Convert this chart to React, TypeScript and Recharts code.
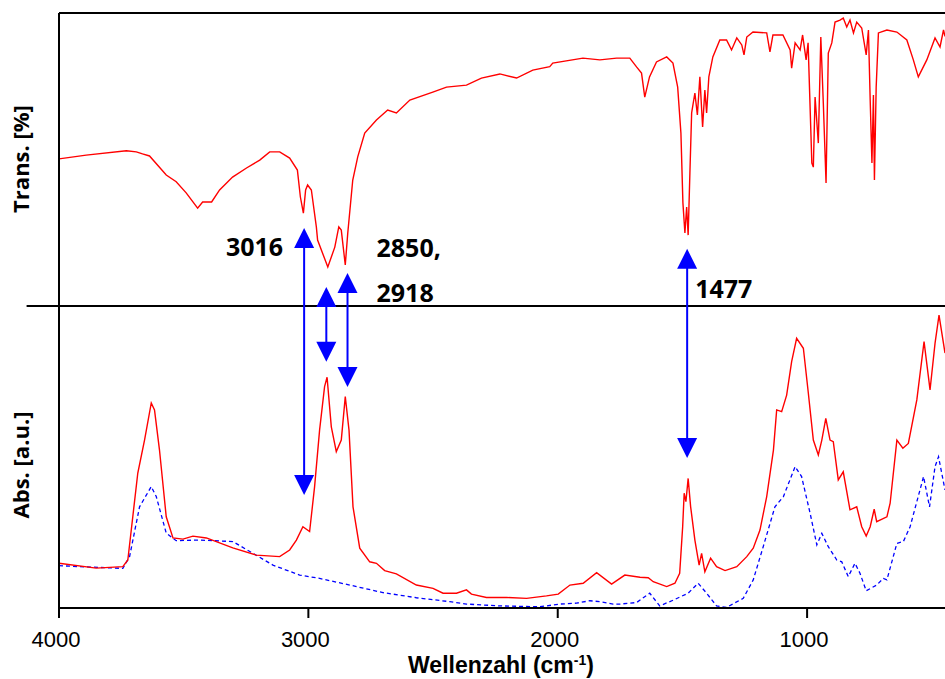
import React from "react"
import { LineChart, Line, XAxis, YAxis, ReferenceLine, Customized } from "recharts"

// top panel: transmission spectrum (%)
const TRANS_WN = [
  4000, 3891, 3730, 3690, 3665, 3637, 3570, 3530, 3490, 3444,
  3424, 3388, 3356, 3304, 3248, 3195, 3155, 3115, 3075, 3044,
  3032, 3020, 3011, 3003, 2988, 2968, 2963, 2922, 2894, 2878,
  2868, 2852, 2842, 2822, 2802, 2774, 2727, 2682, 2647, 2593,
  2501, 2446, 2366, 2306, 2232, 2165, 2100, 2032, 2020, 1899,
  1831, 1764, 1711, 1684, 1664, 1651, 1632, 1604, 1563, 1538,
  1519, 1506, 1498, 1490, 1483, 1477, 1470, 1463, 1450, 1440,
  1430, 1419, 1410, 1403, 1394, 1378, 1350, 1323, 1303, 1282,
  1262, 1253, 1242, 1217, 1162, 1149, 1137, 1097, 1068, 1062,
  1048, 1028, 1018, 1004, 996, 981, 975, 968, 955, 945,
  935, 924, 915, 901, 888, 868, 855, 841, 828, 814,
  801, 781, 763, 754, 747, 740, 734, 730, 723, 714,
  680, 640, 600, 574, 554, 520, 487, 467, 453, 447,
]
const TRANS_PCT = [
  50.2, 51.5, 53.0, 52.6, 51.9, 51.2, 44.7, 42.4, 38.6, 33.4,
  35.5, 35.5, 39.6, 44.0, 47.1, 49.8, 52.6, 52.6, 50.5, 46.4,
  37.2, 31.7, 39.6, 41.3, 39.6, 27.0, 22.5, 13.3, 20.1, 27.0,
  25.9, 14.0, 24.9, 43.0, 50.9, 59.0, 63.5, 66.9, 65.9, 70.3,
  73.0, 74.7, 75.4, 77.8, 79.2, 77.8, 80.5, 81.7, 82.9, 84.6,
  84.0, 84.6, 84.6, 81.6, 79.5, 71.3, 78.2, 83.3, 85.0, 82.9,
  74.7, 59.0, 35.2, 24.9, 33.8, 24.2, 45.4, 65.9, 72.7, 65.2,
  78.2, 61.1, 73.7, 65.9, 78.2, 85.0, 90.8, 90.8, 87.4, 91.5,
  89.1, 85.7, 91.8, 93.5, 93.2, 86.7, 92.5, 92.5, 87.4, 81.2,
  89.8, 87.4, 92.5, 84.0, 89.8, 48.8, 47.4, 71.3, 55.6, 91.8,
  69.3, 42.0, 86.3, 89.8, 96.9, 97.6, 98.3, 95.2, 97.6, 93.2,
  96.9, 94.9, 85.7, 94.2, 70.3, 48.8, 72.0, 43.0, 74.7, 93.2,
  94.2, 93.5, 90.8, 84.0, 78.2, 84.0, 91.5, 88.4, 94.2, 92.0,
]

// bottom panel: absorbance of the sample (red)
const ABS_WN = [
  4000, 3851, 3744, 3724, 3684, 3657, 3630, 3617, 3597, 3570,
  3543, 3503, 3463, 3409, 3303, 3209, 3115, 3075, 3048, 3022,
  2995, 2975, 2955, 2935, 2925, 2908, 2888, 2868, 2852, 2837,
  2821, 2794, 2754, 2727, 2694, 2647, 2567, 2500, 2460, 2406,
  2366, 2346, 2286, 2205, 2125, 2045, 1998, 1951, 1898, 1844,
  1784, 1731, 1670, 1637, 1617, 1563, 1530, 1511, 1499, 1493,
  1486, 1477, 1467, 1450, 1433, 1423, 1410, 1387, 1363, 1329,
  1282, 1242, 1216, 1189, 1162, 1135, 1122, 1102, 1082, 1062,
  1042, 1015, 995, 975, 955, 941, 925, 908, 895, 875,
  855, 828, 801, 781, 763, 747, 731, 721, 680, 667,
  640, 616, 594, 560, 531, 507, 487, 471, 447,
]
const ABS_SAMPLE = [
  14.8, 13.2, 13.7, 15.9, 44.7, 55.6, 67.9, 65.6, 52.3, 30.2,
  23.2, 22.8, 23.8, 23.2, 19.9, 17.5, 17.0, 19.2, 22.5, 26.9,
  25.3, 40.2, 58.9, 73.3, 76.4, 60.0, 51.8, 55.6, 70.0, 58.9,
  33.5, 19.8, 15.3, 14.8, 12.4, 11.3, 7.6, 6.5, 4.9, 4.9,
  6.0, 4.6, 3.5, 3.5, 3.2, 4.0, 4.6, 7.6, 8.2, 11.7,
  7.9, 10.9, 10.2, 10.0, 8.7, 7.1, 8.2, 11.5, 26.9, 38.0,
  35.2, 42.9, 33.5, 22.5, 14.2, 18.1, 12.0, 16.5, 13.7, 12.4,
  13.7, 17.0, 19.8, 25.8, 36.9, 52.3, 65.6, 65.0, 70.5, 81.6,
  89.3, 86.0, 71.1, 55.6, 50.7, 55.6, 62.8, 55.6, 55.1, 42.4,
  45.1, 32.5, 33.5, 26.9, 23.8, 26.9, 32.7, 28.6, 30.2, 34.7,
  55.6, 52.9, 54.5, 68.9, 88.2, 72.2, 87.6, 97.0, 84.4,
]

// bottom panel: reference absorbance (blue dashed)
const REF_WN = [
  4000, 3744, 3717, 3677, 3630, 3610, 3570, 3530, 3436, 3303,
  3222, 3142, 3035, 2955, 2834, 2701, 2567, 2433, 2366, 2232,
  2072, 1992, 1925, 1871, 1831, 1778, 1751, 1684, 1631, 1591,
  1537, 1477, 1437, 1403, 1363, 1323, 1256, 1216, 1176, 1129,
  1095, 1048, 1022, 988, 961, 941, 915, 881, 861, 835,
  808, 788, 763, 721, 694, 680, 640, 614, 587, 533,
  509, 487, 473, 447,
]
const REF_ABS = [
  14.0, 13.1, 17.0, 33.5, 40.2, 36.9, 24.8, 22.3, 22.5, 22.0,
  18.1, 14.2, 10.9, 9.8, 7.6, 5.1, 3.4, 2.1, 1.3, 0.7,
  0.4, 1.3, 1.6, 2.4, 2.1, 1.3, 1.3, 1.8, 4.9, 0.7,
  2.6, 4.9, 8.2, 4.9, 0.7, 0.2, 3.2, 9.3, 20.3, 33.5,
  36.9, 46.8, 43.5, 31.4, 20.9, 24.7, 20.3, 15.9, 15.3, 10.4,
  14.8, 11.5, 5.7, 7.6, 9.8, 9.3, 21.4, 22.0, 26.9, 43.5,
  33.5, 46.8, 50.1, 39.1,
]

// marked bands: arrow position, top end (Trans. %), bottom end (Abs.)
const ARROW_WN = [3017, 2928, 2843, 1481]
const ARROW_TOP_TRANS = [26.6, 6.5, 11.3, 19.5]
const ARROW_BOTTOM_ABS = [37.4, 81.5, 73.2, 49.7]
const ARROW_LABELS = [["3016"], [], ["2850,", "2918"], ["1477"]]

const X_TICKS = [4000, 3000, 2000, 1000]

const RED = "#ff0000"
const BLUE = "#0000ff"
const SANS = "'Liberation Sans', Arial, sans-serif"
const BOLD_SANS = "'Open Sans', 'Noto Sans', sans-serif"

// both panels share one y axis: abs 0..100 below, trans 0..100 % above
const ABS_SPAN = 100
const TOP_SCALE = 293 / 302
const toTop = (t: number) => ABS_SPAN + t * TOP_SCALE
const Y_MAX = toTop(100)

const transData = TRANS_WN.map((w, i) => ({ w, v: toTop(TRANS_PCT[i]) }))
const absData = ABS_WN.map((w, i) => ({ w, v: ABS_SAMPLE[i] }))
const refData = REF_WN.map((w, i) => ({ w, v: REF_ABS[i] }))

// label offsets (px) from the arrow's upper tip
const LABEL_LAYOUT = [
  { dx: -21, dy: [28], anchor: "end" },
  { dx: 0, dy: [], anchor: "start" },
  { dx: 29, dy: [-16, 29], anchor: "start" },
  { dx: 8, dy: [49], anchor: "start" },
]

const makeArrow = (i: number) => (props: any) => {
  const { x1, y1, y2 } = props
  const x = Number(x1)
  const top = Math.min(y1, y2)
  const bottom = Math.max(y1, y2)
  const h = 20
  const hw = 10
  const lay = LABEL_LAYOUT[i]
  return (
    <g>
      <line x1={x} y1={top + h - 2} x2={x} y2={bottom - h + 2} stroke={BLUE} strokeWidth={2} />
      <polygon points={`${x},${top} ${x - hw},${top + h} ${x + hw},${top + h}`} fill={BLUE} />
      <polygon points={`${x},${bottom} ${x - hw},${bottom - h} ${x + hw},${bottom - h}`} fill={BLUE} />
      {ARROW_LABELS[i].map((txt, k) => (
        <text
          key={txt}
          x={x + lay.dx}
          y={top + lay.dy[k]}
          textAnchor={lay.anchor as any}
          fontFamily={BOLD_SANS}
          fontWeight="bold"
          fontSize={25}
          fill="#000"
        >
          {txt}
        </text>
      ))}
    </g>
  )
}

const XTick = (props: any) => {
  const { x, y, payload } = props
  return (
    <text x={x - 3} y={y + 29} textAnchor="middle" fontFamily={SANS} fontSize={22} fill="#000">
      {payload.value}
    </text>
  )
}

const Titles = () => (
  <g>
    <text
      transform="translate(29,159) rotate(-90)"
      textAnchor="middle"
      fontFamily={BOLD_SANS}
      fontWeight="bold"
      fontSize={22}
      fill="#000"
    >
      Trans. [%]
    </text>
    <text
      transform="translate(29,465) rotate(-90)"
      textAnchor="middle"
      fontFamily={BOLD_SANS}
      fontWeight="bold"
      fontSize={22}
      fill="#000"
    >
      Abs. [a.u.]
    </text>
    <text x={501} y={673} textAnchor="middle" fontFamily={SANS} fontWeight="bold" fontSize={23} fill="#000">
      Wellenzahl (cm
      <tspan dy={-8} fontSize={14}>-1</tspan>
      <tspan dy={8}>)</tspan>
    </text>
  </g>
)

export default function App() {
  return (
    <div style={{ position: "absolute", left: 0, top: 0, background: "#fff" }}>
      <LineChart width={945} height={679} margin={{ top: 13, right: 0, bottom: 0, left: 59 }}>
        <XAxis
          dataKey="w"
          type="number"
          domain={[447, 4000]}
          reversed
          allowDataOverflow
          ticks={X_TICKS}
          tick={<XTick />}
          tickSize={10}
          tickMargin={0}
          height={71}
          axisLine={{ stroke: "#000", strokeWidth: 2 }}
          tickLine={{ stroke: "#000", strokeWidth: 2 }}
        />
        <YAxis type="number" domain={[0, Y_MAX]} hide allowDataOverflow />
        <Line
          data={refData}
          dataKey="v"
          type="linear"
          stroke={BLUE}
          strokeWidth={1.3}
          strokeDasharray="4 3"
          dot={false}
          isAnimationActive={false}
        />
        <Line
          data={absData}
          dataKey="v"
          type="linear"
          stroke={RED}
          strokeWidth={1.4}
          dot={false}
          isAnimationActive={false}
        />
        <Line
          data={transData}
          dataKey="v"
          type="linear"
          stroke={RED}
          strokeWidth={1.4}
          dot={false}
          isAnimationActive={false}
        />
        <ReferenceLine y={Y_MAX} stroke="#000" strokeWidth={2} />
        <ReferenceLine x={4000} stroke="#000" strokeWidth={2} />
        <ReferenceLine
          segment={[
            { x: 4130, y: ABS_SPAN },
            { x: 447, y: ABS_SPAN },
          ]}
          ifOverflow="visible"
          stroke="#000"
          strokeWidth={2}
        />
        {ARROW_WN.map((w, i) => (
          <ReferenceLine
            key={w}
            segment={[
              { x: w, y: toTop(ARROW_TOP_TRANS[i]) },
              { x: w, y: ARROW_BOTTOM_ABS[i] },
            ]}
            shape={makeArrow(i)}
          />
        ))}
        <Customized component={Titles} />
      </LineChart>
    </div>
  )
}
